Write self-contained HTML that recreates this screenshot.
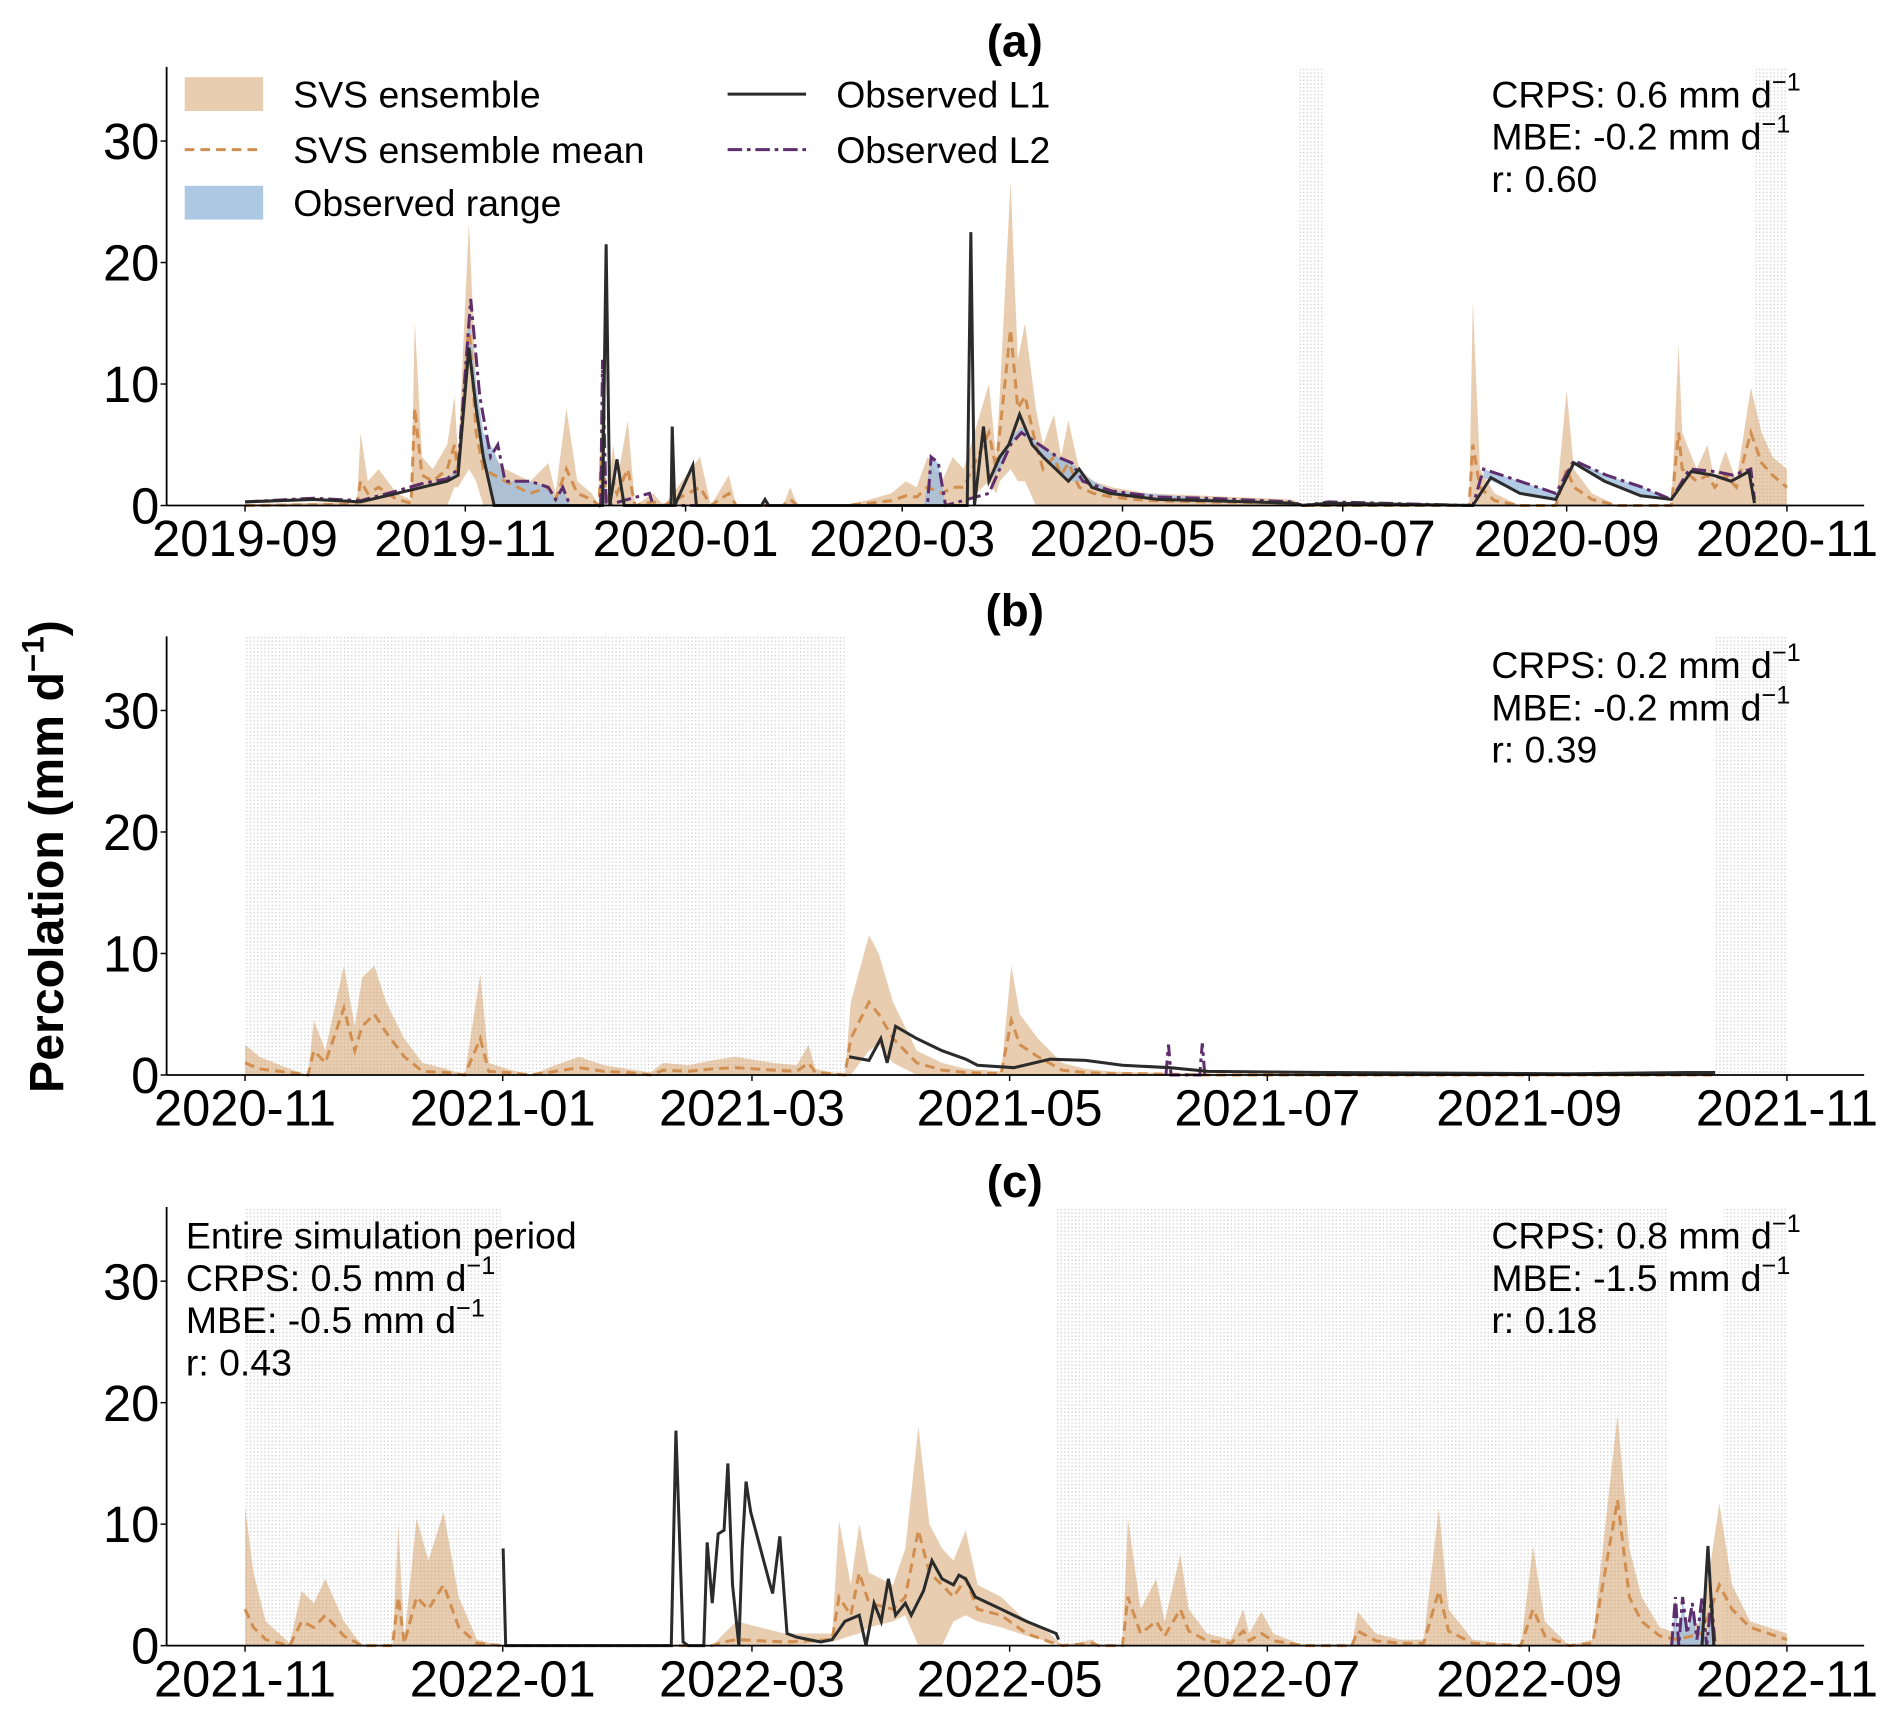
<!DOCTYPE html>
<html><head><meta charset="utf-8"><style>
html,body{margin:0;padding:0;background:#fff;}
svg{display:block;font-family:"Liberation Sans",Arial,sans-serif;}
</style></head><body>
<svg id="fig" width="1892" height="1712" viewBox="0 0 1568 1419" xmlns="http://www.w3.org/2000/svg">
<defs>
<pattern id="dots" width="3" height="3" patternUnits="userSpaceOnUse"><rect x="0" y="0" width="1" height="1" fill="#c8c8c8"/></pattern>
</defs>
<text transform="translate(52,710) rotate(-90)" text-anchor="middle" font-size="40" font-weight="bold">Percolation (mm d<tspan font-size="26" dy="-16">−1</tspan><tspan dy="16">)</tspan></text>
</svg>
<script>
// ---------- Panel (a) data (days since 2019-09-01) ----------
const aEnsDays=[0,31,32,34,37,42,46,47,49,52,56,58,59,62,64,66,69,72,79,84,86,89,92,96,98,99,100,102,103,106,108,113,116,126,129,134,136,149,151,153,166,173,179,183,186,189,193,196,199,206,208,209,212,214,216,219,221,224,226,228,231,235,240,250,266,290,293,339,340,342,346,353,363,366,368,373,380,395,397,398,402,405,407,410,413,417,420,423,427];
const aEnsHi=[0.1,0.3,6,2,3,1,0.5,15.2,4,3,5,9,4,23.3,10,5,4,3,2,3.5,1,8,2,1,0,12,0,5,2,7,0,1,0,4,0,2.5,0,0,1.5,0,0,0.5,1,2,1.5,4,2,4,3,10,4,9,26.7,12,15,8,5,7.5,4,7,3,2,1.5,1,0.8,0.5,0,0,16.8,3,1,0,0,9.5,3,1,0,0,13.3,6,3,5,2,4.5,2,9.7,6,4,3];
const aEnsLo=[0,0,0,0,0,0,0,0,0,0,0,1.5,1.5,3,2,0,0,0,0,0,0,0,0,0,0,0,0,0,0,0,0,0,0,0,0,0,0,0,0,0,0,0,0,0,0,0,0,0,0,2,1,2,3,2,2,0,0,0,0,0,0,0,0,0,0,0,0,0,0,0,0,0,0,0,0,0,0,0,0,0,0,0,0,0,0,0,0,0,0];
const aEnsMean=[0,0.1,2,1,1.5,0.5,0.2,8,2.5,2,3,5,2.5,15,6,3,2.5,2,1,1.5,0.5,3,1,0.5,0,6,0,2,1,3,0,0.3,0,1.5,0,1,0,0,0.5,0,0,0.2,0.4,0.8,0.7,1.5,1,1.5,1.5,6,3,6,14.5,8,9,5,3,4,2.5,3.5,1.5,1,0.7,0.4,0.3,0.2,0,0,5,1.5,0.4,0,0,3,1.5,0.5,0,0,6,3,2,2.5,1.5,2.5,1.5,6,3.5,2.5,1.5];
const aL1Days=[0,19,32,42,49,56,59,62,64,66,69,99,100,101,103,105,118,118.3,119,124,125,143,144,145,200,201,202,204.5,206,209,211.5,214.5,218,221,224.5,228,231,234.5,239.5,253,266,290,293,300,340,345,353,363,368,376.5,386.5,395,400.5,406.5,411.5,416.5,418];
const aL1=[0.3,0.5,0.3,1,1.5,2,2.5,13,8,4,0,0,21.5,0,3.8,0,0,6.5,0,3.3,0,0,0.5,0,0,22.5,0,6.5,2,4,5,7.5,5,4,3,2,3,1.5,1,0.5,0.4,0.2,0,0.2,0,2.3,1,0.5,3.5,2,0.8,0.5,2.8,2.5,2,2.8,0.2];
const aL2Days=[0,19,32,42,49,56,59,62.5,65,68,70,72,79,84,86,88,90,98.5,99,100,112,113,189,190,192,194,206,209,212,215,220,225,229,232,240,253,266,290,293,300,340,343,353,363,368,377,387,395,400,407,412,417,418];
const aL2=[0.3,0.6,0.4,1.2,1.8,2.2,3,17,9,4,5,2,2,1.5,0.5,1.5,0,0,12,0,1,0,0,4,3.5,0,1,3,5,6,5,4,3.5,2,1.2,0.7,0.6,0.3,0,0.3,0,3,2,1,3.7,2.5,1.5,0.5,3,2.8,2.5,3,0.5];
const aObsDays=[56,59,62,64,66,69,72,79,84,86,88,90,null,98.5,99,100,null,188,190,192,194,null,206,209,212,215,220,225,229,232,240,266,290,null,343,353,363,368,377,387,395];
const aObsLo=[2,2.5,13,8,4,0,0,0,0,0,0,0,null,0,0,0,null,0,0,0,0,null,2,3,5,6,4.5,3,2,2,1,0.4,0.2,null,2.3,1,0.5,3.5,2,0.8,0.5];
const aObsHi=[2.2,3,16,10,6,4.5,2,2,1.5,0.5,1.5,0,null,0,12,0,null,0,4,3.5,0,null,2,4,5.5,6.5,5,4,3.5,2.5,1.2,0.6,0.3,null,3,2,1,3.7,2.5,1.5,0.5];
const aGaps=[[292,299],[418,427]];
const aTicks=["2019-09","2019-11","2020-01","2020-03","2020-05","2020-07","2020-09","2020-11"];
const aTickDays=[0,61,122,182,243,304,366,427];

// ---------- Panel (b) data (days since 2020-11-01) ----------
const bEnsDays=[0,3.4,10.6,14.9,16.3,19,23.4,26,27.7,30.6,33.4,37.7,42,47.7,52,55.7,57.7,62,67.7,73.4,79,85,90.6,96,99,105,110.6,116,125,130.6,133.4,135,142,143.4,147.7,150,153.4,159,165,170.6,179,181.4,183.4,187.7,193.4,199,205,213,228,348];
const bEnsHi=[2.5,1.5,0.5,0,4.5,2,9,4,8,9,6,3,1,0.5,0,8.3,1,0.5,0,0.8,1.5,0.8,0.5,0.2,1,0.8,1.2,1.5,1,0.8,2.5,0.5,0,6,11.5,10,6,2,1,0.5,0.3,9,5,3,1,0.5,0.3,0.2,0.1,0];
const bEnsLo=[0,0,0,0,0,0,0,0,0,0,0,0,0,0,0,0,0,0,0,0,0,0,0,0,0,0,0,0,0,0,0,0,0,0,2,2.5,1,0,0,0,0,0,0,0,0,0,0,0,0,0];
const bEnsMean=[1,0.5,0.2,0,2,1,5.5,2,4,5,3.5,1.5,0.3,0.2,0,3,0.3,0.2,0,0.3,0.6,0.3,0.2,0,0.4,0.3,0.5,0.6,0.4,0.3,1,0.2,0,3,6,5,3,1,0.4,0.2,0.1,4.5,2.5,1.5,0.4,0.2,0.1,0.1,0,0];
const bL1Days=[143,147.7,150.5,152,154,159,165,170.6,173.4,182,190.6,199,207.7,219,228,256.6,313.7,342,348];
const bL1=[1.5,1.2,3,1,4,3,2,1.3,0.8,0.6,1.3,1.2,0.8,0.6,0.3,0.2,0.1,0.2,0.2];
const bL2Days=[218,218.6,219.2,226,226.6,227.2];
const bL2=[0,2.5,0,0,2.6,0];
const bGaps=[[0,142],[348,365]];
const bTicks=["2020-11","2021-01","2021-03","2021-05","2021-07","2021-09","2021-11"];
const bTickDays=[0,61,120,181,242,304,365];

// ---------- Panel (c) data (days since 2021-11-01) ----------
const cEnsDays=[0,2,4.9,10.6,13.4,16.3,19,23.4,27.7,34.9,36.3,37.7,40.6,43.4,47,50.6,54.9,60.6,110.6,113.4,116.3,127.7,139,140.6,143.4,145.4,147.7,153.4,156.3,159.4,162,165,167.7,170.6,173.4,179,185,190.6,193.4,200.6,202,207.7,209,212,215.7,217.7,221.4,223.4,227.7,233.4,236.3,237.7,240.6,243.4,250.6,262,263.4,267.7,273.4,279,282.6,284.9,290.6,302,304.9,307.7,313.4,319,324.9,327.7,330.6,334.9,339,344.9,349,352,356.3,365];
const cEnsHi=[11.5,6,2,0.2,4.5,3.5,5.5,2,0,0,10,0.5,10.5,7,11,4,0.5,0,0,1,2,1,1,10.3,5,10,6,5,8,18,10,8,7,9.5,5,4,2,1,0,0.5,0,0,10.5,3,5.5,2,7.5,3,1,0.5,3,1,2.8,1,0,0,2.8,1,0.5,0.5,11.3,3,0.5,0,8.2,2,0,0.5,19,8,4,1.5,1,2,11.7,5,2,1];
const cEnsLo=[0,0,0,0,0,0,0,0,0,0,0,0,0,0,0,0,0,0,0,0,0,0,0.3,0.5,0.8,1,1.5,2,2.5,0,0,0,2,2.5,2,1.5,0.8,0.3,0,0,0,0,0,0,0,0,0,0,0,0,0,0,0,0,0,0,0,0,0,0,0,0,0,0,0,0,0,0,0,0,0,0,0,0,0,0,0,0];
const cEnsMean=[3,1.5,0.5,0,2,1.5,2.5,0.8,0,0,4,0.2,4,3,5,1.5,0.2,0,0,0.3,0.5,0.3,0.5,4,2.5,6,3.5,3,4,9.5,6,5,4,5.5,3,2.5,1,0.3,0,0.2,0,0,4,1,2,0.8,3,1.2,0.4,0.2,1.2,0.4,1,0.4,0,0,1.2,0.4,0.2,0.2,4.5,1.2,0.2,0,3,0.8,0,0.2,12,4,2,0.8,0.5,1,5,3,1.5,0.5];
const cL1Days=[61.1,61.7,100.9,102,103.7,104.9,108.6,109.4,110.6,112,113.4,114.3,115.4,116.9,117.7,118.6,119.7,122,124.3,124.9,126.6,128.3,130.6,136.3,139,142,145.4,147,148.9,150.6,152.3,154,156.3,157.7,160.6,162.6,165,167.7,169,170.6,172.9,179,185,192,192.6,200,344.9,346.3,347.7];
const cL1=[8,0,0,17.7,0.3,0,0,8.5,3.5,9.2,9.5,15,5,0,8,13.5,11,8,5,4.3,9,1,0.7,0.3,0.5,2,2.5,0,3.5,2,5.5,2.5,3.5,2.5,4.5,7,5.5,5,5.8,5.5,4,3,2,1,0.5,null,0,8.2,0];
const cL2Days=[337.7,338.6,339.4,340.3,341.4,342.6,343.7,344.9,346,347.1,348];
const cL2=[0,4,0,4,1,3.5,0.5,4,0,3.8,0];
const cObsDays=[337.7,338.6,339.4,340.3,341.4,342.6,343.7,344.9,346,347.1,348];
const cObsLo=[0,0,0,0,0,0,0,0,0,0,0];
const cObsHi=[0,4,0,4,1,3.5,0.5,4,0,3.8,0];
const cGaps=[[0,60.5],[191.7,336.6],[350,365]];
const cTicks=["2021-11","2022-01","2022-03","2022-05","2022-07","2022-09","2022-11"];
const cTickDays=[0,61,120,181,242,304,365];

const yTicks=[0,10,20,30];

const NS="http://www.w3.org/2000/svg";
const svg=document.getElementById('fig');
function mk(tag,attrs,parent){const e=document.createElementNS(NS,tag);for(const k in attrs)e.setAttribute(k,attrs[k]);(parent||svg).appendChild(e);return e;}

function drawPanel(p){
  const g=mk('g',{});
  
  
  const X=d=>203+d*p.ppd;
  const Y=v=>p.y0-v*10.07;
  const top=Y(36.1), left=138, right=1545;
  p.gaps.forEach(gp=>{
    const r=mk('rect',{x:X(gp[0]),y:top,width:X(gp[1])-X(gp[0]),height:p.y0-top,fill:'url(#dots)'},g);
    
    
  });
  let pts=p.ensDays.map((d,i)=>X(d)+','+Y(p.ensHi[i]));
  for(let i=p.ensDays.length-1;i>=0;i--)pts.push(X(p.ensDays[i])+','+Y(p.ensLo[i]));
  const band=mk('polygon',{points:pts.join(' '),fill:'#d39b62','fill-opacity':0.5},g);
  
  
  // observed range (segments separated by null)
  if(p.obsDays){
    let seg=[];
    const flush=()=>{
      if(seg.length>1){
        let op=seg.map(i=>X(p.obsDays[i])+','+Y(p.obsHi[i]));
        for(let k=seg.length-1;k>=0;k--)op.push(X(p.obsDays[seg[k]])+','+Y(p.obsLo[seg[k]]));
        const r=mk('polygon',{points:op.join(' '),fill:'#9fbedd','fill-opacity':0.8},g);
        
        
      }
      seg=[];
    };
    p.obsDays.forEach((d,i)=>{if(d===null)flush();else seg.push(i);});
    flush();
  }
  const m=mk('polyline',{points:p.ensDays.map((d,i)=>X(d)+','+Y(p.ensMean[i])).join(' '),fill:'none',stroke:'#d08f50','stroke-width':2.5,'stroke-dasharray':'8,5'},g);
  
  
  function pathOf(days,vals){let s='',pen=false;days.forEach((d,i)=>{if(vals[i]===null){pen=false;return;}s+=(pen?'L':'M')+X(d)+' '+Y(vals[i])+' ';pen=true;});return s;}
  const l2=mk('path',{d:pathOf(p.l2Days,p.l2),fill:'none',stroke:'#5e2d6b','stroke-width':2.5,'stroke-dasharray':'12,4,3,4'},g);
  
  
  const l1=mk('path',{d:pathOf(p.l1Days,p.l1),fill:'none',stroke:'#2b2b2b','stroke-width':2.5},g);
  
  
  const ys=mk('line',{x1:left,y1:top,x2:left,y2:p.y0,stroke:'#000','stroke-width':1.5},g);
  
  
  const xs=mk('line',{x1:left,y1:p.y0,x2:right,y2:p.y0,stroke:'#000','stroke-width':1.5},g);
  
  
  yTicks.forEach(v=>{
    mk('line',{x1:left-5,y1:Y(v),x2:left,y2:Y(v),stroke:'#000','stroke-width':1.2},g);
    const t=mk('text',{x:left-6,y:Y(v)+15,'text-anchor':'end','font-size':42},g);
    t.textContent=v;
    
    
  });
  p.ticks.forEach((lab,i)=>{
    const x=X(p.tickDays[i]);
    mk('line',{x1:x,y1:p.y0,x2:x,y2:p.y0+5,stroke:'#000','stroke-width':1.2},g);
    const t=mk('text',{x:x,y:p.y0+42,'text-anchor':'middle','font-size':42},g);
    t.textContent=lab;
    
    
  });
  const ti=mk('text',{x:841,y:p.y0-372,'text-anchor':'middle','font-size':38,'font-weight':'bold'},g);
  ti.textContent='('+p.id+')';
  
  
  return g;
}

function statBlock(x,y,lines,name){
  const g=mk('g',{});
  
  
  lines.forEach((l,i)=>{
    const t=mk('text',{x:x,y:y+i*35,'font-size':31},g);
    if(l.indexOf('mm d')>=0){t.innerHTML=l+'<tspan font-size="21" dy="-14">−1</tspan>';}
    else t.textContent=l;
  });
}

drawPanel({id:'a',ppd:2.993,y0:419,ensDays:aEnsDays,ensHi:aEnsHi,ensLo:aEnsLo,ensMean:aEnsMean,l1Days:aL1Days,l1:aL1,l2Days:aL2Days,l2:aL2,obsDays:aObsDays,obsLo:aObsLo,obsHi:aObsHi,gaps:aGaps,ticks:aTicks,tickDays:aTickDays});
drawPanel({id:'b',ppd:3.5014,y0:891,ensDays:bEnsDays,ensHi:bEnsHi,ensLo:bEnsLo,ensMean:bEnsMean,l1Days:bL1Days,l1:bL1,l2Days:bL2Days,l2:bL2,gaps:bGaps,ticks:bTicks,tickDays:bTickDays});
drawPanel({id:'c',ppd:3.5014,y0:1364,ensDays:cEnsDays,ensHi:cEnsHi,ensLo:cEnsLo,ensMean:cEnsMean,l1Days:cL1Days,l1:cL1,l2Days:cL2Days,l2:cL2,obsDays:cObsDays,obsLo:cObsLo,obsHi:cObsHi,gaps:cGaps,ticks:cTicks,tickDays:cTickDays});

statBlock(1236,89,['CRPS: 0.6 mm d','MBE: -0.2 mm d','r: 0.60'],'stats-a');
statBlock(1236,562,['CRPS: 0.2 mm d','MBE: -0.2 mm d','r: 0.39'],'stats-b');
statBlock(1236,1035,['CRPS: 0.8 mm d','MBE: -1.5 mm d','r: 0.18'],'stats-c');
statBlock(154,1035,['Entire simulation period','CRPS: 0.5 mm d','MBE: -0.5 mm d','r: 0.43'],'stats-entire-period');

const lg=mk('g',{});


function legendEntry(kind,x,y,label){
  const e=mk('g',{},lg);
  
  
  if(kind==='ens')mk('rect',{x:x,y:y-14,width:65,height:28,fill:'#d39b62','fill-opacity':0.5},e);
  if(kind==='obs')mk('rect',{x:x,y:y-14,width:65,height:28,fill:'#9fbedd','fill-opacity':0.85},e);
  if(kind==='mean')mk('line',{x1:x,y1:y,x2:x+65,y2:y,stroke:'#d08f50','stroke-width':2.5,'stroke-dasharray':'8,5'},e);
  if(kind==='l1')mk('line',{x1:x,y1:y,x2:x+65,y2:y,stroke:'#2b2b2b','stroke-width':2.5},e);
  if(kind==='l2')mk('line',{x1:x,y1:y,x2:x+65,y2:y,stroke:'#5e2d6b','stroke-width':2.5,'stroke-dasharray':'12,4,3,4'},e);
  const t=mk('text',{x:x+90,y:y+11,'font-size':31},e);
  t.textContent=label;
}
legendEntry('ens',153,78,'SVS ensemble');
legendEntry('mean',153,124,'SVS ensemble mean');
legendEntry('obs',153,168,'Observed range');
legendEntry('l1',603,78,'Observed L1');
legendEntry('l2',603,124,'Observed L2');
</script>
</body></html>
